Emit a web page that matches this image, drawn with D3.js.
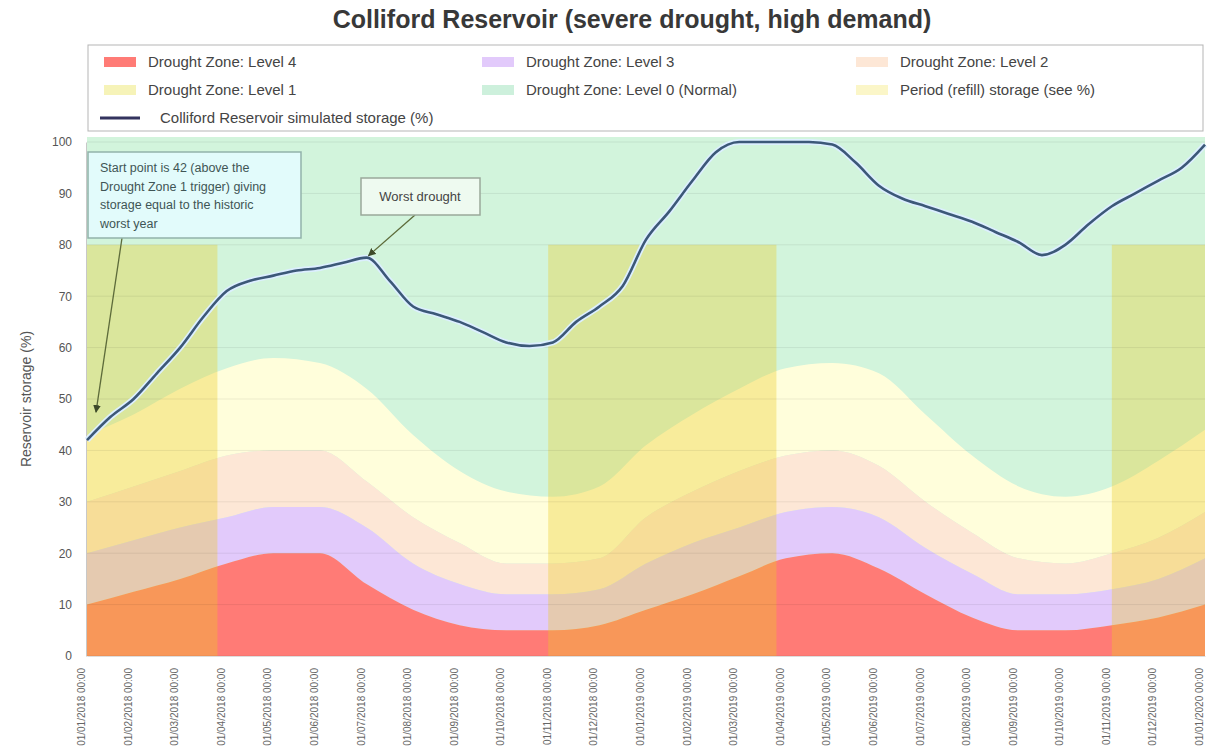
<!DOCTYPE html>
<html><head><meta charset="utf-8">
<script src="https://cdn.jsdelivr.net/npm/d3@7/dist/d3.min.js"></script>
<style>body{margin:0;background:#fff;font-family:"Liberation Sans",Arial,sans-serif}</style>
</head><body><svg id="c" width="1213" height="756"></svg>
<script>
// ---- data ----
const tickLabels = ["01/01/2018 00:00","01/02/2018 00:00","01/03/2018 00:00","01/04/2018 00:00","01/05/2018 00:00","01/06/2018 00:00","01/07/2018 00:00","01/08/2018 00:00","01/09/2018 00:00","01/10/2018 00:00","01/11/2018 00:00","01/12/2018 00:00","01/01/2019 00:00","01/02/2019 00:00","01/03/2019 00:00","01/04/2019 00:00","01/05/2019 00:00","01/06/2019 00:00","01/07/2019 00:00","01/08/2019 00:00","01/09/2019 00:00","01/10/2019 00:00","01/11/2019 00:00","01/12/2019 00:00","01/01/2020 00:00"];
const zoneMonths = [0,1,2,3,4,5,6,7,8,9,10,11,12,13,14,15,16,17,18,19,20,21,22,23,24];
const level4Top = [10,12.5,15,18,20,20,14,9,6,5,5,6,9,12,15.5,19,20,17,12,7.5,5,5,6,7.5,10];
const level3Top = [20,22.5,25,27,29,29,25,18,14,12,12,13,18,22,25,28,29,27,21,16,12,12,13,15,19];
const level2Top = [30,33,36,39,40,40,34,27,22,18,18,19,27,32,36,39,40,37,30,24,19,18,20,23,28];
const level1Top = [43,47,52,56,58,57,52,43,36,32,31,33,41,47,52,56,57,55,47,39,33,31,33,38,44];
const storageMonths = [0,0.5,1,1.5,2,2.5,3,3.5,4,4.5,5,5.5,6,6.5,7,7.5,8,8.5,9,9.5,10,10.5,11,11.5,12,12.5,13,13.5,14,14.5,15,15.5,16,16.5,17,17.5,18,18.5,19,19.5,20,20.5,21,21.5,22,22.5,23,23.5,24];
const storage = [42,46.5,50,55,60,66,71,73,74,75,75.5,76.5,77.5,73,68,66.5,65,63,61,60.3,61,65,68,72,81,86.5,92.5,98,100,100,100,100,99.5,96,91.5,89,87.5,86,84.5,82.5,80.5,78,80,84,87.5,90,92.5,95,99.5];
const bandStart = [0, 9.9, 22];
const bandEnd = [2.8, 14.8, 24];
const bandValue = 80;
const yTicks = [0,10,20,30,40,50,60,70,80,90,100];
const legendLabels = ["Drought Zone: Level 4","Drought Zone: Level 3","Drought Zone: Level 2","Drought Zone: Level 1","Drought Zone: Level 0 (Normal)","Period (refill) storage (see %)","Colliford Reservoir simulated storage (%)"];
const noteStart = ["Start point is 42 (above the","Drought Zone 1 trigger) giving","storage equal to the historic","worst year"];
const noteWorst = "Worst drought";
const worstIndex = 12;

// ---- drawing ----
const svg = d3.select("#c");
const x = d3.scaleLinear().domain([0,24]).range([87,1205]);
const y = d3.scaleLinear().domain([0,100]).range([656,142]);

const colors = {L0:"#d2f4dc", L1:"#fffedb", L2:"#fde7d6", L3:"#e2cafb", L4:"#ff7b76", band:"rgb(236,204,38)", line:"#3c5878"};

svg.append("text").attr("x",632).attr("y",28).attr("text-anchor","middle")
  .attr("font-size",25).attr("font-weight","bold").attr("fill","#383838")
  .text("Colliford Reservoir (severe drought, high demand)");

// plot background (level 0)
svg.append("rect").attr("x",x(0)).attr("y",137).attr("width",x(24)-x(0)).attr("height",y(0)-137).attr("fill",colors.L0);

const idx = zoneMonths.map((m,i)=>i);
function zoneArea(lo, hi, color){
  const a = d3.area().curve(d3.curveMonotoneX)
    .x(i=>x(zoneMonths[i])).y0(i=>y(lo?lo[i]:0)).y1(i=>y(hi[i]));
  svg.append("path").datum(idx).attr("d",a).attr("fill",color);
}
zoneArea(level2Top, level1Top, colors.L1);
zoneArea(level3Top, level2Top, colors.L2);
zoneArea(level4Top, level3Top, colors.L3);
zoneArea(null, level4Top, colors.L4);

// period bands
svg.append("g").selectAll("rect").data(bandStart).join("rect")
  .attr("x",(d)=>x(d)).attr("width",(d,i)=>x(bandEnd[i])-x(d))
  .attr("y",y(bandValue)).attr("height",y(0)-y(bandValue))
  .attr("fill",colors.band).attr("fill-opacity",0.35);

// grid
svg.append("g").selectAll("line").data(yTicks).join("line")
  .attr("x1",x(0)).attr("x2",x(24)).attr("y1",d=>y(d)).attr("y2",d=>y(d))
  .attr("stroke","rgba(0,0,0,0.07)");

// axes
const ya = svg.append("g").attr("transform",`translate(${x(0)-1},0)`)
  .call(d3.axisLeft(y).tickValues(yTicks).tickSize(0).tickPadding(14));
ya.select(".domain").attr("stroke","#c8c8c8");
ya.selectAll("text").attr("font-size",12).attr("fill","#555").attr("font-family","Liberation Sans, Arial, sans-serif");

const xa = svg.append("g").attr("transform",`translate(0,${y(0)})`)
  .call(d3.axisBottom(x).tickValues(zoneMonths).tickFormat(i=>tickLabels[i]).tickSize(0));
xa.select(".domain").attr("stroke","#ddd");
xa.selectAll("text").attr("font-size",10).attr("fill","#666").attr("font-family","Liberation Sans, Arial, sans-serif")
  .attr("text-anchor","end").attr("transform","rotate(-90)").attr("dx","-12").attr("dy","-0.25em")
  .attr("x",0).attr("y",0);

svg.append("text").attr("transform",`translate(31,${y(50)}) rotate(-90)`)
  .attr("text-anchor","middle").attr("font-size",14).attr("fill","#555")
  .text("Reservoir storage (%)");

// storage line
const line = d3.line().curve(d3.curveMonotoneX).x(i=>x(storageMonths[i])).y(i=>y(storage[i]));
const sIdx = storage.map((d,i)=>i);
svg.append("path").datum(sIdx).attr("d",line).attr("fill","none").attr("stroke","#dcefff").attr("stroke-width",6);
svg.append("path").datum(sIdx).attr("d",line).attr("fill","none").attr("stroke",colors.line).attr("stroke-width",2.6);

// legend
svg.append("rect").attr("x",88).attr("y",45).attr("width",1115).attr("height",86)
  .attr("fill","#fff").attr("stroke","#b5b5b5");
const legColors = [colors.L4, colors.L3, colors.L2, "#f6f3b8", "#cdf0dc", "#fbf6c8"];
const colX = [104, 482, 856];
const rowY = [62, 90, 118];
legendLabels.forEach((t,i)=>{
  const r = Math.floor(i/3), c = i%3;
  const g = svg.append("g");
  if (i < 6) {
    g.append("rect").attr("x",colX[c]).attr("y",rowY[r]-5).attr("width",32).attr("height",10).attr("fill",legColors[i]);
    g.append("text").attr("x",colX[c]+44).attr("y",rowY[r]+5).attr("font-size",15).attr("fill","#444").text(t);
  } else {
    g.append("line").attr("x1",colX[c]-4).attr("x2",colX[c]+36).attr("y1",rowY[r]).attr("y2",rowY[r]).attr("stroke","#33335e").attr("stroke-width",3);
    g.append("text").attr("x",colX[c]+56).attr("y",rowY[r]+5).attr("font-size",15).attr("fill","#444").text(t);
  }
});

// annotations
const defs = svg.append("defs");
defs.append("marker").attr("id","arr").attr("viewBox","0 0 10 10").attr("refX",9).attr("refY",5)
  .attr("markerWidth",6).attr("markerHeight",6).attr("orient","auto")
  .append("path").attr("d","M0,0L10,5L0,10z").attr("fill","#3d4a2a");

svg.append("line").attr("x1",122).attr("y1",238).attr("x2",x(storageMonths[0])+9).attr("y2",y(storage[0])-28)
  .attr("stroke","#5d6b3a").attr("stroke-width",1.3).attr("marker-end","url(#arr)");
svg.append("rect").attr("x",88).attr("y",152).attr("width",213).attr("height",86)
  .attr("fill","#e2fbfb").attr("stroke","#92b2aa").attr("stroke-width",1.5);
noteStart.forEach((t,i)=>svg.append("text").attr("x",100).attr("y",172+i*18.5).attr("font-size",12.5).attr("fill","#3f5555").text(t));

svg.append("line").attr("x1",415).attr("y1",215).attr("x2",x(storageMonths[worstIndex])+2).attr("y2",y(storage[worstIndex])-2)
  .attr("stroke","#5d6b3a").attr("stroke-width",1.3).attr("marker-end","url(#arr)");
svg.append("rect").attr("x",361).attr("y",178).attr("width",119).attr("height",37)
  .attr("fill","#eefaf0").attr("stroke","#9aa89a").attr("stroke-width",1.5);
svg.append("text").attr("x",420).attr("y",201).attr("text-anchor","middle").attr("font-size",13).attr("fill","#444").text(noteWorst);
</script></body></html>
